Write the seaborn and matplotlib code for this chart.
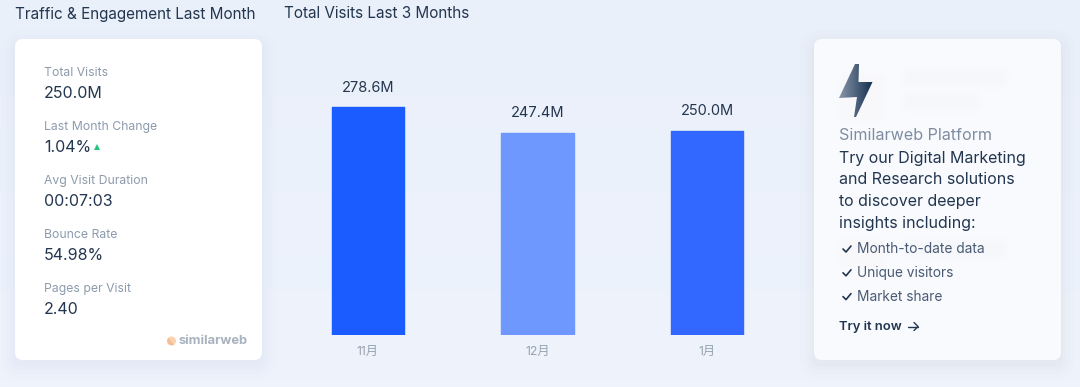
import numpy as np
import matplotlib
matplotlib.use('Agg')
import matplotlib.pyplot as plt
import seaborn as sns
from matplotlib.patches import FancyBboxPatch, Polygon, Wedge

months = ['11月', '12月', '1月']
visits = [278.6, 247.4, 250.0]
bar_colors = ['#1A5CFF', '#6F98FF', '#3268FF']

metric_names = ['Total Visits', 'Last Month Change', 'Avg Visit Duration', 'Bounce Rate', 'Pages per Visit']
metric_values = ['250.0M', '1.04%', '00:07:03', '54.98%', '2.40']
promo_lines = ['Try our Digital Marketing', 'and Research solutions', 'to discover deeper', 'insights including:']
promo_items = ['Month-to-date data', 'Unique visitors', 'Market share']

W, H = 1080, 387
DARK = '#23364F'
GREY = '#8D9BAD'

sns.set_theme(style='white')
plt.rcParams['font.family'] = ['Inter', 'Noto Sans CJK SC', 'DejaVu Sans']

fig = plt.figure(figsize=(W / 100, H / 100), dpi=100)

# page layer in pixel coordinates
bg = fig.add_axes([0, 0, 1, 1])
grad = np.linspace(0, 1, 64).reshape(-1, 1)
grad_cmap = matplotlib.colors.LinearSegmentedColormap.from_list('page', ['#EAF0FA', '#EEF3FC'])
bg.imshow(grad, extent=(0, W, H, 0), aspect='auto', cmap=grad_cmap, zorder=0)


def card(x0, y0, x1, y1, color, shadow):
    for grow, a in [(14, 0.05), (9, 0.07), (5, 0.09), (2, 0.12)]:
        bg.add_patch(FancyBboxPatch((x0 - grow, y0 - grow + 5), x1 - x0 + 2 * grow, y1 - y0 + 2 * grow,
                                    boxstyle='round,pad=0,rounding_size=%d' % (8 + grow),
                                    fc=shadow, ec='none', alpha=a, zorder=1))
    bg.add_patch(FancyBboxPatch((x0, y0), x1 - x0, y1 - y0, boxstyle='round,pad=0,rounding_size=8',
                                fc=color, ec='none', zorder=2))


def smudge(x0, y0, x1, y1, color):
    # the blurred content showing through the promo card
    for grow in [8, 5, 2]:
        bg.add_patch(FancyBboxPatch((x0 - grow, y0 - grow), x1 - x0 + 2 * grow, y1 - y0 + 2 * grow,
                                    boxstyle='round,pad=0,rounding_size=%d' % (3 + grow),
                                    fc=color, ec='none', alpha=0.07, zorder=2.5))


card(15, 39, 262, 360, '#FFFFFF', '#D5DEEE')
card(814, 39, 1061, 360, '#F8FAFE', '#D3D9E4')
smudge(908, 74, 1002, 82, '#F1F3F7')
smudge(908, 98, 975, 106, '#F3F5F9')
smudge(845, 80, 880, 115, '#FCF6EE')
smudge(845, 245, 880, 262, '#FCF6EE')
smudge(908, 245, 1002, 253, '#F3F5F9')

bg.text(15, 14, 'Traffic & Engagement Last Month', fontsize=11, color=DARK, va='center', zorder=3)
bg.text(284, 14, 'Total Visits Last 3 Months', fontsize=11, color=DARK, va='center', zorder=3)

# left card
for i, (name, val) in enumerate(zip(metric_names, metric_values)):
    y = 73 + i * 54
    bg.text(44, y, name, fontsize=8.8, color=GREY, va='center', zorder=3)
    bg.text(44, y + 21, val, fontsize=11.5, color=DARK, va='center', zorder=3)
bg.plot([97], [147], marker='^', ms=4, color='#1FC77E', mew=0, zorder=3)

# similarweb logo
bg.add_patch(Wedge((171.5, 341), 4.5, 50, 230, fc='#F7BE93', ec='none', zorder=3))
bg.add_patch(Wedge((171.5, 341), 4.5, 230, 50, fc='#F9D2B0', ec='none', zorder=3))
bg.text(179, 341, 'similarweb', fontsize=9.3, color='#A9B2BF', fontweight='bold', va='center', zorder=3)

# right card
bolt = [(855, 64), (859, 64), (858.5, 82), (872.5, 82), (856, 117), (854, 117), (857, 97), (839, 98)]
bolt_img = bg.imshow(np.linspace(0, 1, 64).reshape(1, -1), extent=(839, 873, 118, 64), aspect='auto',
                     cmap=matplotlib.colors.LinearSegmentedColormap.from_list('bolt', ['#8795A8', '#16304F']), zorder=3)
bolt_img.set_clip_path(Polygon(bolt, transform=bg.transData))

bg.text(839, 136, 'Similarweb Platform', fontsize=11.6, color='#7F8DA0', va='center', zorder=3)
for i, line in enumerate(promo_lines):
    bg.text(839, 158 + i * 21.7, line, fontsize=11.5, color=DARK, va='center', zorder=3)
for i, item in enumerate(promo_items):
    y = 249 + i * 23.8
    bg.plot([843, 846, 851], [y, y + 3, y - 3], color=DARK, lw=1.2, zorder=3)
    bg.text(857, y, item, fontsize=9.9, color='#4A5B72', va='center', zorder=3)
bg.text(839, 327, 'Try it now', fontsize=9.4, color=DARK, fontweight='semibold', va='center', zorder=3)
bg.plot([908, 918], [326.5, 326.5], color=DARK, lw=1, zorder=3)
bg.plot([914, 918, 914], [322.5, 326.5, 330.5], color=DARK, lw=1, zorder=3)

bg.set_xlim(0, W)
bg.set_ylim(H, 0)
bg.axis('off')

# bars
ax = fig.add_axes([283 / W, 1 - 335 / H, 509 / W, 278 / H])
ax.patch.set_alpha(0)
sns.barplot(x=months, y=visits, hue=months, palette=bar_colors, saturation=1, width=0.425, legend=False, ax=ax)
ax.set_ylim(0, 340)
ax.set_xlim(-0.5, 2.5)
ax.set_yticks([])
ax.set_xlabel('')
ax.set_ylabel('')
sns.despine(ax=ax, left=True, bottom=True)
ax.tick_params(axis='x', length=0, pad=8, labelsize=8.8, labelcolor='#97A3B0')
for bar, c in zip(ax.patches, bar_colors):
    bar.set_edgecolor(c)
    bar.set_linewidth(1)
    bar.set_joinstyle('round')
for cont in ax.containers:
    ax.bar_label(cont, fmt='%.1fM', padding=9, fontsize=10.5, color=DARK)

fig.savefig('out.png', dpi=100)
